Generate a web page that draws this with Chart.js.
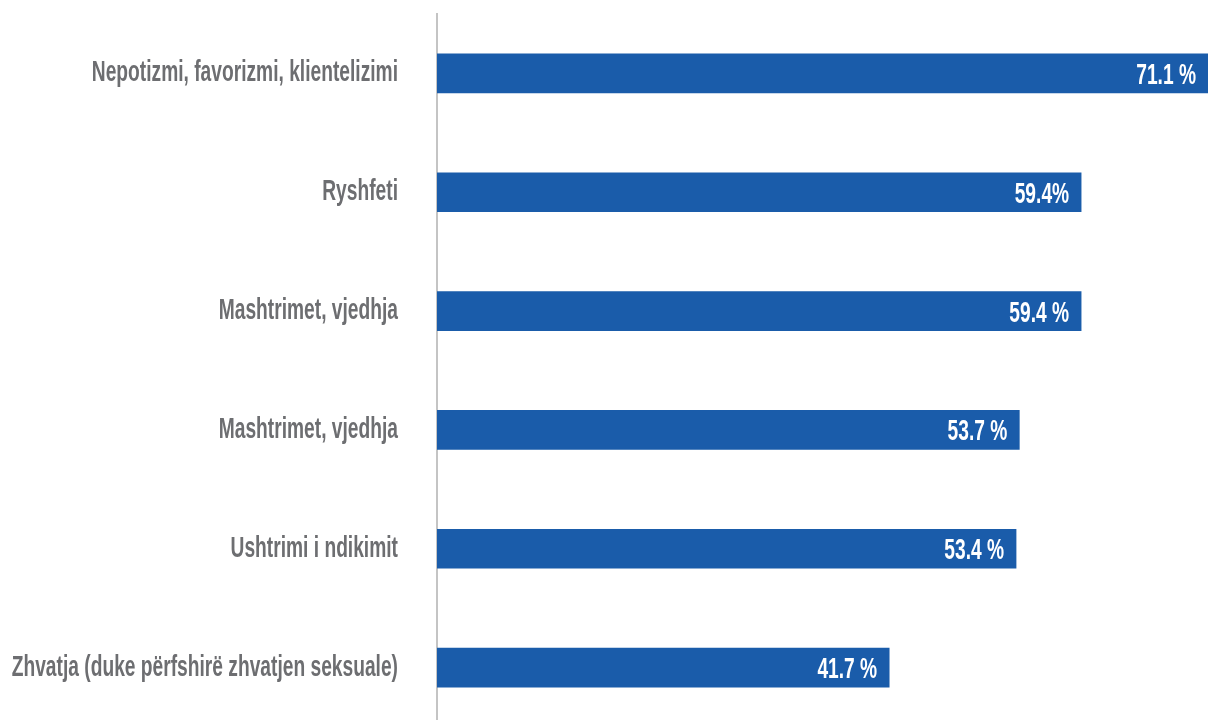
<!DOCTYPE html>
<html>
<head>
<meta charset="utf-8">
<script src="https://cdn.jsdelivr.net/npm/chart.js@4/dist/chart.umd.min.js"></script>
<style>
  html, body { margin: 0; padding: 0; background: #ffffff; overflow: hidden; }
  #wrap { position: relative; width: 1208px; height: 727px; }
</style>
</head>
<body>
<div id="wrap"><canvas id="chart"></canvas></div>
<script>
// Forms of corruption and the share of respondents naming each
const categories = [
  'Nepotizmi, favorizmi, klientelizimi',
  'Ryshfeti',
  'Mashtrimet, vjedhja',
  'Mashtrimet, vjedhja',
  'Ushtrimi i ndikimit',
  'Zhvatja (duke përfshirë zhvatjen seksuale)'
];
const shares = [71.1, 59.4, 59.4, 53.7, 53.4, 41.7];
// separator written between the number and the % sign in each bar label
const percentGaps = [' ', '', ' ', ' ', ' ', ' '];

const BAR_BLUE = '#1a5caa';
const LABEL_GREY = '#6d6e71';
const LABEL_FONT = "bold 30px 'Liberation Sans', Arial, sans-serif";
const SQUEEZE = 0.64; // horizontal condensing of the label lettering

function drawSqueezed(ctx, text, rightX, baselineY, color) {
  ctx.save();
  ctx.font = LABEL_FONT;
  ctx.fillStyle = color;
  ctx.textAlign = 'right';
  ctx.textBaseline = 'alphabetic';
  ctx.translate(rightX, baselineY);
  ctx.scale(SQUEEZE, 1);
  ctx.fillText(text, 0, 0);
  ctx.restore();
}

const labelPlugin = {
  id: 'barLabels',
  afterDraw(chart) {
    const ctx = chart.ctx;
    const yScale = chart.scales.y;
    // category names to the left of the axis
    categories.forEach((name, i) => {
      const cy = yScale.getPixelForValue(i);
      drawSqueezed(ctx, name, yScale.right - 39, cy + 8, LABEL_GREY);
    });
    // value labels inside the end of each bar
    const meta = chart.getDatasetMeta(0);
    meta.data.forEach((bar, i) => {
      const text = shares[i].toFixed(1) + percentGaps[i] + '%';
      drawSqueezed(ctx, text, bar.x - 12, bar.y + 10.5, '#ffffff');
    });
  }
};

new Chart(document.getElementById('chart'), {
  type: 'bar',
  data: {
    labels: categories,
    datasets: [{
      data: shares,
      backgroundColor: BAR_BLUE,
      borderWidth: 0,
      barThickness: 39
    }]
  },
  options: {
    indexAxis: 'y',
    responsive: true,
    maintainAspectRatio: false,
    animation: false,
    layout: { padding: { left: 437, top: 14, right: 0, bottom: 0 } },
    plugins: {
      legend: { display: false },
      tooltip: { enabled: false }
    },
    scales: {
      x: {
        display: false,
        min: 0,
        max: 71.1
      },
      y: {
        ticks: { display: false },
        grid: { display: false, drawTicks: false },
        border: { display: true, color: '#c4c4c4', width: 2 },
        afterFit(scale) { scale.width = 0; }
      }
    }
  },
  plugins: [labelPlugin]
});
</script>
</body>
</html>
